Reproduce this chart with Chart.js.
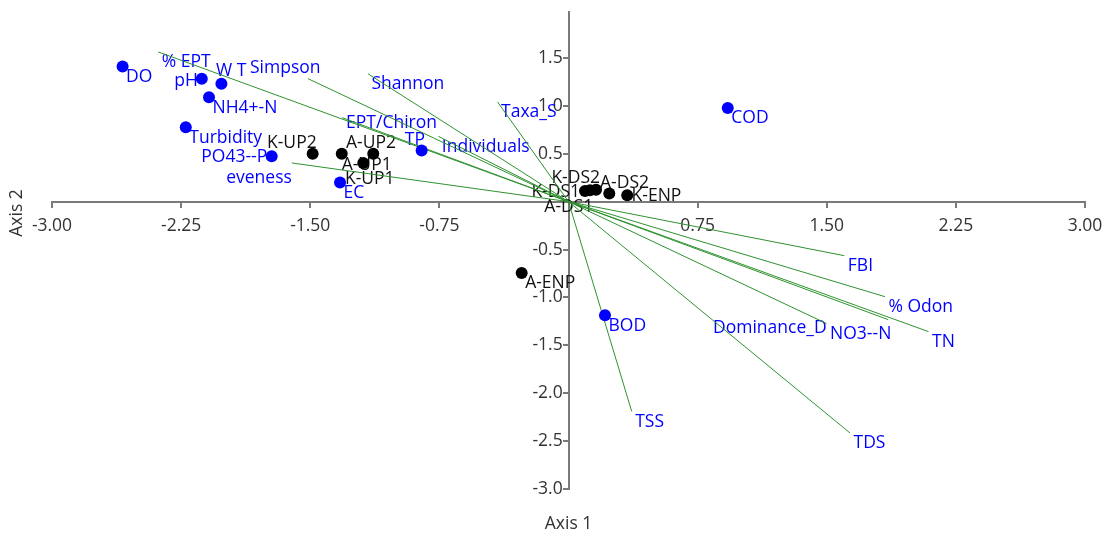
<!DOCTYPE html>
<html>
<head>
<meta charset="utf-8">
<script src="https://cdn.jsdelivr.net/npm/chart.js@4.4.0/dist/chart.umd.min.js"></script>
<style>
  html, body { margin: 0; padding: 0; background: #fff; }
  canvas { display: block; }
</style>
</head>
<body>
<canvas id="chartCanvas" width="1106" height="533"></canvas>
<script>
// sites (black dots)
const siteNames = ["K-UP2", "A-UP2", "K-UP1", "A-UP1", "K-DS1", "A-DS1", "K-DS2", "A-DS2", "K-ENP", "A-ENP"];
const siteX = [-1.486, -1.317, -1.134, -1.192, 0.096, 0.125, 0.160, 0.237, 0.341, -0.272];
const siteY = [0.501, 0.501, 0.501, 0.404, 0.110, 0.120, 0.125, 0.084, 0.066, -0.744];

// variables shown as blue dots
const envNames = ["DO", "pH", "W T", "NH4+-N", "Turbidity", "PO43--P", "EC", "TP", "COD", "BOD"];
const envX = [-2.590, -2.130, -2.016, -2.088, -2.223, -1.724, -1.327, -0.853, 0.925, 0.212];
const envY = [1.412, 1.284, 1.232, 1.089, 0.776, 0.473, 0.201, 0.535, 0.978, -1.187];

// variables shown as vectors from the origin
const vecNames = ["% EPT", "Simpson", "Shannon", "EPT/Chiron", "Taxa_S", "Individuals", "eveness",
                  "FBI", "% Odon", "TN", "NO3--N", "Dominance_D", "TDS", "TSS"];
const vecX = [-2.383, -1.513, -1.165, -1.315, -0.412, -0.756, -1.607, 1.602, 1.838, 2.091, 1.499, 1.857, 1.635, 0.367];
const vecY = [1.563, 1.284, 1.336, 0.877, 1.041, 0.682, 0.404, -0.564, -0.992, -1.357, -1.273, -1.232, -2.415, -2.189];

const xTicks = [-3, -2.25, -1.5, -0.75, 0.75, 1.5, 2.25, 3];
const yTicks = [-3, -2.5, -2, -1.5, -1, -0.5, 0.5, 1, 1.5];

const FONT = "17.5px 'Open Sans', sans-serif";
const BLUE = "#0000ff";
const BLACK = "#111111";
const GREEN = "#2f922f";
const AXIS = "#7a7a7a";

// where each label sits relative to its point: dx, dy, textAlign
const defaultShift = [3.5, 10.5, "left"];
const labelShift = {
  "pH": [-4, 2.7, "right"],
  "W T": [-5.4, -12.3, "left"],
  "PO43--P": [-4.5, 0.5, "right"],
  "TP": [3.3, -10.7, "right"],
  "K-UP2": [4, -10.7, "right"],
  "A-UP2": [4.3, -10.7, "left"],
  "K-UP1": [-28.3, 25.3, "left"],
  "A-UP1": [-21.6, 1.7, "left"],
  "K-DS1": [-5, 1, "right"],
  "A-DS1": [3.3, 16.8, "right"],
  "K-DS2": [4, -11.7, "right"],
  "A-DS2": [-9.3, -10.7, "left"],
  "K-ENP": [4.4, 0.3, "left"],
  "Simpson": [-58, -10.7, "left"],
  "EPT/Chiron": [4, 5.3, "left"],
  "eveness": [0, 15, "right"],
  "Dominance_D": [-61.6, 8.3, "right"]
};

const pointLabels = {
  id: "pointLabels",
  beforeDatasetsDraw(chart) {
    const ctx = chart.ctx;
    const xs = chart.scales.x, ys = chart.scales.y;
    ctx.save();
    ctx.font = FONT;
    ctx.textBaseline = "middle";
    const put = (names, xv, yv, color) => {
      names.forEach((name, i) => {
        const s = labelShift[name] || defaultShift;
        ctx.fillStyle = color;
        ctx.textAlign = s[2];
        ctx.fillText(name, xs.getPixelForValue(xv[i]) + s[0], ys.getPixelForValue(yv[i]) + s[1]);
      });
    };
    put(vecNames, vecX, vecY, BLUE);
    put(envNames, envX, envY, BLUE);
    put(siteNames, siteX, siteY, BLACK);
    ctx.restore();
  }
};

const axisTitles = {
  id: "axisTitles",
  afterDraw(chart) {
    const ctx = chart.ctx;
    ctx.save();
    ctx.font = FONT;
    ctx.fillStyle = "#333333";
    ctx.textAlign = "center";
    ctx.textBaseline = "middle";
    ctx.fillText("Axis 1", chart.scales.x.getPixelForValue(0), 524);
    ctx.translate(17, 213);
    ctx.rotate(-Math.PI / 2);
    ctx.fillText("Axis 2", 0, 0);
    ctx.restore();
  }
};

const vectorSets = vecNames.map((name, i) => ({
  label: name,
  data: [{ x: 0, y: 0 }, { x: vecX[i], y: vecY[i] }],
  showLine: true,
  borderColor: GREEN,
  borderWidth: 1,
  pointRadius: 0,
  order: 3
}));

const ctx = document.getElementById("chartCanvas").getContext("2d");
window.myChart = new Chart(ctx, {
  type: "scatter",
  data: {
    datasets: vectorSets.concat([
      {
        label: "variables",
        data: envX.map((x, i) => ({ x: x, y: envY[i] })),
        backgroundColor: BLUE,
        borderWidth: 0,
        pointRadius: 6,
        order: 1
      },
      {
        label: "sites",
        data: siteX.map((x, i) => ({ x: x, y: siteY[i] })),
        backgroundColor: "#000000",
        borderWidth: 0,
        pointRadius: 6,
        order: 2
      }
    ])
  },
  options: {
    responsive: false,
    animation: false,
    devicePixelRatio: 1,
    layout: { padding: { left: 52, right: 21, top: 12, bottom: 44 } },
    plugins: { legend: { display: false }, tooltip: { enabled: false } },
    scales: {
      x: {
        type: "linear",
        min: -3,
        max: 3,
        position: { y: 0 },
        afterBuildTicks: (s) => { s.ticks = xTicks.map((v) => ({ value: v })); },
        grid: { display: true, drawOnChartArea: false, drawTicks: true, tickLength: 5, color: AXIS, lineWidth: 2 },
        border: { display: true, color: AXIS, width: 2 },
        ticks: {
          color: "#333333",
          // tall line height pushes the labels down without widening the side padding
          font: { family: "'Open Sans', sans-serif", size: 17.5, lineHeight: 1.9 },
          padding: 3,
          maxRotation: 0,
          autoSkip: false,
          callback: (v) => Number(v).toFixed(2)
        }
      },
      y: {
        type: "linear",
        min: -3,
        max: 1.98,
        position: { x: 0 },
        afterBuildTicks: (s) => { s.ticks = yTicks.map((v) => ({ value: v })); },
        grid: { display: true, drawOnChartArea: false, drawTicks: true, tickLength: 5, color: AXIS, lineWidth: 2 },
        border: { display: true, color: AXIS, width: 2 },
        ticks: {
          color: "#333333",
          font: { family: "'Open Sans', sans-serif", size: 17.5 },
          padding: 0,
          autoSkip: false,
          // the centred axis puts labels flush on the line, so keep a small gap for the tick mark
          callback: (v) => Number(v).toFixed(1) + "\u2004"
        }
      }
    }
  },
  plugins: [pointLabels, axisTitles]
});
</script>
</body>
</html>
